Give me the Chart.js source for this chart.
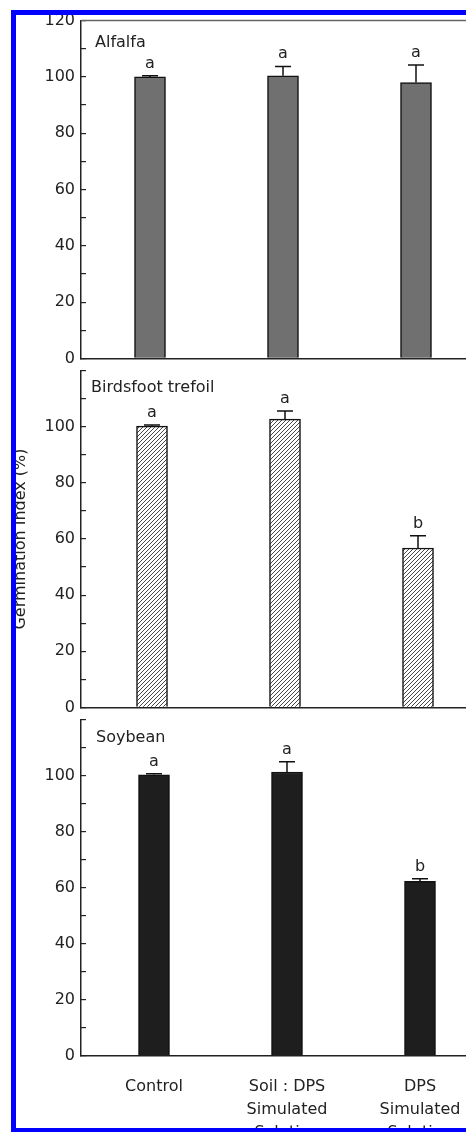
<!DOCTYPE html>
<html>
<head>
<meta charset="utf-8">
<script src="https://cdn.jsdelivr.net/npm/chart.js@4.4.1/dist/chart.umd.min.js"></script>
<style>
  html, body { margin: 0; padding: 0; background: #fff; width: 466px; height: 1132px; overflow: hidden; }
  #frame {
    position: absolute; left: 11px; top: 10px;
    width: 640px; height: 1123px;
    box-sizing: border-box;
    border: 5px solid #0000ff;
    overflow: hidden;
  }
  #frame canvas { position: absolute; }
</style>
</head>
<body>
<div id="frame">
  <canvas id="alfalfa"></canvas>
  <canvas id="trefoil"></canvas>
  <canvas id="soybean"></canvas>
</div>
<script>
// values (Germination Index, %)
const categories = ["Control", ["Soil : DPS", "Simulated", "Solution"], ["DPS", "Simulated", "Solution"]];
const categoryPos = [0, 1, 2];

const alfalfaMean = [100.0, 100.4, 98.0];
const alfalfaErr = [0.4, 3.3, 6.2];
const alfalfaLetters = ["a", "a", "a"];

const trefoilMean = [100.2, 102.7, 56.8];
const trefoilErr = [0.4, 2.9, 4.4];
const trefoilLetters = ["a", "a", "b"];

const soybeanMean = [100.3, 101.3, 62.3];
const soybeanErr = [0.4, 3.7, 0.9];
const soybeanLetters = ["a", "a", "b"];

const yMin = 0, yMax = 120, yStep = 10, yLabelStep = 20;

const FONT = "DejaVu Sans";
const INK = "#222";

// frame inner origin on the page
const OX = 16, OY = 15;

function hatchPattern() {
  const c = document.createElement("canvas");
  c.width = 4; c.height = 4;
  const g = c.getContext("2d");
  g.fillStyle = "#fff";
  g.fillRect(0, 0, 4, 4);
  g.strokeStyle = "#333";
  g.lineWidth = 0.9;
  g.beginPath();
  g.moveTo(0, 4); g.lineTo(4, 0);
  g.moveTo(-1, 1); g.lineTo(1, -1);
  g.moveTo(3, 5); g.lineTo(5, 3);
  g.stroke();
  return g.createPattern(c, "repeat");
}

// error bars, significance letters and panel name
const annotate = {
  id: "annotate",
  afterDatasetsDraw(chart, args, opts) {
    const { ctx, chartArea } = chart;
    const y = chart.scales.y;
    const meta = chart.getDatasetMeta(0);
    const data = chart.data.datasets[0].data;
    ctx.save();
    ctx.strokeStyle = "#111";
    ctx.lineWidth = 1.5;
    ctx.fillStyle = INK;
    ctx.font = "16px '" + FONT + "'";
    meta.data.forEach((bar, i) => {
      const top = y.getPixelForValue(data[i].y + opts.errors[i]);
      ctx.beginPath();
      ctx.moveTo(bar.x, bar.y);
      ctx.lineTo(bar.x, top);
      ctx.moveTo(bar.x - 8, top);
      ctx.lineTo(bar.x + 8, top);
      ctx.stroke();
      ctx.textAlign = "center";
      ctx.textBaseline = "alphabetic";
      ctx.fillText(opts.letters[i], bar.x, top - 8);
    });
    ctx.textAlign = "left";
    ctx.textBaseline = "middle";
    ctx.fillText(opts.title, chartArea.left + opts.titleDx, chartArea.top + opts.titleDy);
    if (opts.frameTop) {
      ctx.strokeStyle = "#666";
      ctx.lineWidth = 1.5;
      ctx.beginPath();
      ctx.moveTo(chartArea.left, chartArea.top);
      ctx.lineTo(chartArea.right, chartArea.top);
      ctx.stroke();
    }
    ctx.restore();
  }
};

function makePanel(id, cfg) {
  const canvas = document.getElementById(id);
  canvas.width = 540;
  canvas.height = cfg.height;
  canvas.style.left = (0 - OX) + "px";
  canvas.style.top = (cfg.pageTop - OY) + "px";

  const pxPerUnit = 133;
  const xMin = -(cfg.firstCenter - 81) / pxPerUnit;
  const xMax = xMin + (540 - 81) / pxPerUnit;

  return new Chart(canvas, {
    type: "bar",
    data: {
      datasets: [{
        data: categoryPos.map((p, i) => ({ x: p, y: cfg.mean[i] })),
        backgroundColor: cfg.fill,
        borderColor: "#111",
        borderWidth: 1.5,
        barThickness: 31
      }]
    },
    plugins: [annotate],
    options: {
      responsive: false,
      animation: false,
      devicePixelRatio: 1,
      layout: { padding: { top: 17, bottom: cfg.last ? 0 : 12, left: 0, right: 0 } },
      plugins: {
        legend: { display: false },
        tooltip: { enabled: false },
        annotate: {
          errors: cfg.err,
          letters: cfg.letters,
          title: cfg.title,
          titleDx: cfg.titleDx,
          titleDy: cfg.titleDy,
          frameTop: cfg.frameTop
        }
      },
      scales: {
        x: {
          type: "linear",
          offset: false,
          min: xMin,
          max: xMax,
          afterBuildTicks: axis => { axis.ticks = categoryPos.map(v => ({ value: v })); },
          afterFit: axis => { axis.height = cfg.last ? 90 : 0; },
          grid: { display: false, drawTicks: false, offset: false },
          border: { color: INK, width: 1.5 },
          ticks: {
            display: !!cfg.last,
            autoSkip: false,
            maxRotation: 0,
            padding: 19,
            color: INK,
            font: { family: FONT, size: 16, lineHeight: 1.45 },
            callback: v => categories[v]
          }
        },
        y: {
          min: yMin,
          max: yMax,
          afterFit: axis => { axis.width = 81; },
          grid: { drawOnChartArea: false, tickLength: -5, color: INK, lineWidth: 1.2 },
          border: { color: INK, width: 1.5 },
          ticks: {
            stepSize: yStep,
            padding: 11,
            color: INK,
            font: { family: FONT, size: 16 },
            callback: v => (v % yLabelStep === 0 && (v < yMax || cfg.frameTop)) ? v : ""
          },
          title: {
            display: !!cfg.yTitle,
            text: cfg.yTitle || "",
            color: INK,
            font: { family: FONT, size: 16 },
            padding: { top: 11, bottom: 0 }
          }
        }
      }
    }
  });
}

makePanel("alfalfa", {
  pageTop: 0, height: 379, firstCenter: 150,
  mean: alfalfaMean, err: alfalfaErr, letters: alfalfaLetters,
  fill: "#707070", title: "Alfalfa", titleDx: 14, titleDy: 22, frameTop: true
});

makePanel("trefoil", {
  pageTop: 350, height: 378, firstCenter: 152,
  mean: trefoilMean, err: trefoilErr, letters: trefoilLetters,
  fill: hatchPattern(), title: "Birdsfoot trefoil", titleDx: 10, titleDy: 17,
  yTitle: "Germination Index (%)"
});

makePanel("soybean", {
  pageTop: 699, height: 447, firstCenter: 154, last: true,
  mean: soybeanMean, err: soybeanErr, letters: soybeanLetters,
  fill: "#1e1e1e", title: "Soybean", titleDx: 15, titleDy: 18
});
</script>
</body>
</html>
